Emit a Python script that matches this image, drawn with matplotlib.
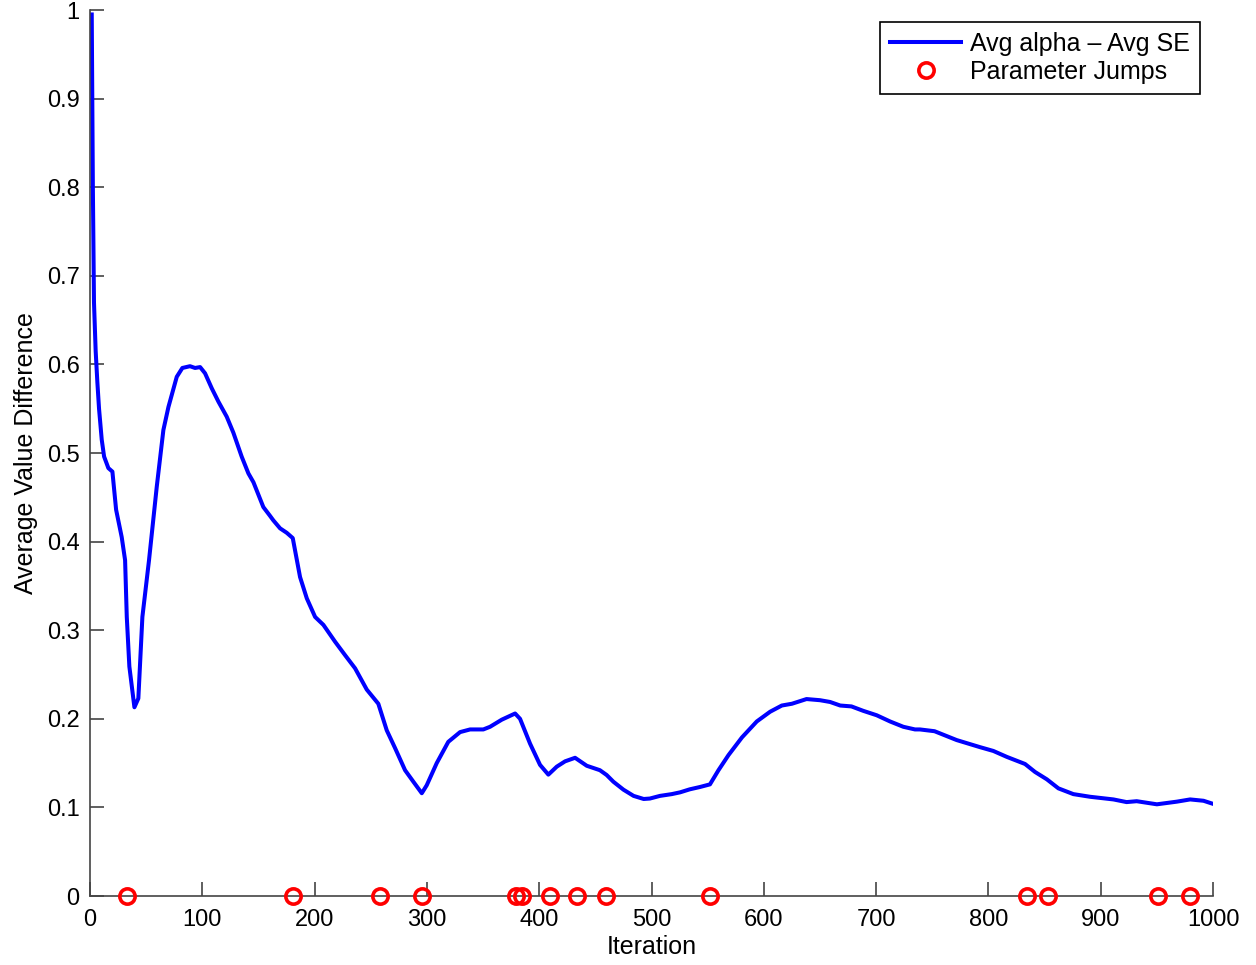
import numpy as np
import matplotlib.pyplot as plt

plt.rcParams['font.family'] = ['Liberation Sans', 'DejaVu Sans']

# curve (iteration, value)
iters = [1.5, 2.5, 3.5, 5, 6.5, 8, 10.4, 12.5, 16.3, 19.9, 23.2, 28.2, 31.2, 32.7,
         35, 39.5, 43, 46.6, 52.5, 59.4, 65.3, 69.8, 77.2, 82.2, 89, 93.5, 98,
         102.4, 108.4, 114.3, 121.7, 127.6, 135, 141, 145.5, 154.3, 160.3, 163.2,
         169.2, 175.1, 180.5, 187, 193, 200.4, 207.8, 218.2, 227, 236, 246.4,
         256.7, 264.2, 271.6, 280.5, 287.9, 295.4, 299.8, 308.7, 319, 329.5,
         338.4, 350.2, 356.2, 366.6, 378.5, 382.9, 391.8, 400.7, 408.1, 415.6,
         423, 431.9, 442.3, 454, 460, 466, 475, 484, 493, 498.5, 507.5, 518,
         525.4, 534, 543, 552, 559.6, 568.5, 580.5, 593.7, 605.6, 616, 625, 638,
         650, 659, 668, 678, 688.5, 700.5, 712.4, 724.2, 734.6, 739, 752, 771.7,
         792.5, 804.4, 816.4, 832.6, 841.5, 852, 862.3, 875.6, 890.5, 911.3, 923,
         932, 950, 967.8, 979.6, 991.5, 1000]
diff = [0.995, 0.80, 0.67, 0.615, 0.58, 0.55, 0.515, 0.496, 0.483, 0.479, 0.436,
        0.405, 0.379, 0.315, 0.259, 0.213, 0.223, 0.315, 0.379, 0.462, 0.526,
        0.552, 0.586, 0.596, 0.598, 0.596, 0.597, 0.590, 0.573, 0.558, 0.541,
        0.523, 0.496, 0.477, 0.467, 0.439, 0.429, 0.424, 0.415, 0.410, 0.404,
        0.360, 0.336, 0.315, 0.306, 0.287, 0.272, 0.257, 0.233, 0.217, 0.187,
        0.167, 0.142, 0.129, 0.116, 0.125, 0.150, 0.174, 0.185, 0.188, 0.188,
        0.191, 0.199, 0.206, 0.200, 0.172, 0.148, 0.137, 0.146, 0.152, 0.156,
        0.147, 0.142, 0.1366, 0.129, 0.120, 0.113, 0.1095, 0.110, 0.113, 0.115,
        0.117, 0.1204, 0.123, 0.126, 0.142, 0.159, 0.179, 0.197, 0.208, 0.215,
        0.217, 0.2223, 0.221, 0.219, 0.215, 0.214, 0.209, 0.204, 0.197, 0.191,
        0.188, 0.188, 0.186, 0.176, 0.168, 0.1637, 0.157, 0.149, 0.140, 0.1317,
        0.1215, 0.115, 0.112, 0.109, 0.106, 0.107, 0.1035, 0.1065, 0.109,
        0.1075, 0.104]

jumps = [32.6, 181, 258, 295.4, 379.6, 384.7, 409.3, 433.4, 459.7, 552.3,
         834.7, 853, 950.7, 979.3]

fig = plt.figure(figsize=(12.56, 9.65), dpi=100)
ax = fig.add_axes([0.0717, 0.0715, 0.8941, 0.9181])

ax.plot(iters, diff, color=(0, 0, 1), lw=2.9, label='Avg alpha \u2013 Avg SE')
ax.plot(jumps, np.zeros(len(jumps)), 'o', ms=11, mfc='none', mec=(1, 0, 0),
        mew=2.6, clip_on=False, zorder=5, label='Parameter Jumps')

ax.set_xlim(0, 1000)
ax.set_ylim(0, 1)
ax.set_xticks(np.arange(0, 1001, 100))
ax.set_yticks(np.arange(0, 1.01, 0.1))
ax.set_yticklabels(['0'] + ['%.1f' % v for v in np.arange(0.1, 0.95, 0.1)] + ['1'])
ax.spines['top'].set_visible(False)
ax.spines['right'].set_visible(False)
for s in ['left', 'bottom']:
    ax.spines[s].set_color('#444444')
    ax.spines[s].set_linewidth(1.2)
ax.tick_params(direction='in', length=10, width=1.2, color='#444444',
               labelsize=17)
ax.tick_params(axis='x', pad=9.5)
ax.tick_params(axis='y', pad=7.5)
ax.set_xlabel('Iteration', fontsize=18, labelpad=3)
ax.set_ylabel('Average Value Difference', fontsize=18, labelpad=6)

leg = ax.legend(loc='upper right', fontsize=18, fancybox=False, framealpha=1,
                edgecolor='black', borderpad=0.4, handlelength=2.85,
                handletextpad=0.35, labelspacing=0.15, borderaxespad=0,
                bbox_to_anchor=(0.9884, 0.9865))
leg.get_frame().set_linewidth(1.2)

fig.savefig('out.png', dpi=100)
